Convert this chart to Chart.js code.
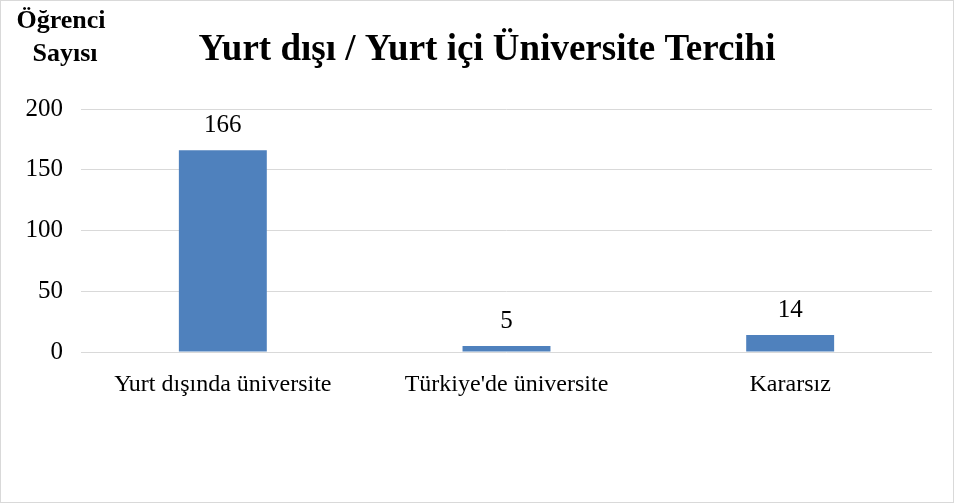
<!DOCTYPE html>
<html>
<head>
<meta charset="utf-8">
<script src="https://cdn.jsdelivr.net/npm/chart.js@4/dist/chart.umd.min.js"></script>
<style>
  html, body { margin: 0; padding: 0; background: #fff; }
  #wrap { width: 955px; height: 504px; }
</style>
</head>
<body>
<div id="wrap"><canvas id="chart"></canvas></div>
<script>
const categories = ['Yurt dışında üniversite', "Türkiye'de üniversite", 'Kararsız']
const counts = [166, 5, 14]
const yTicks = [0, 50, 100, 150, 200]
const titleText = 'Yurt dışı / Yurt içi Üniversite Tercihi'
const axisTitle = ['Öğrenci', 'Sayısı']

const serif = '"Liberation Serif", "Times New Roman", serif'

// frame, title, y axis caption, value labels
const decorations = {
  id: 'decorations',
  beforeDraw(chart) {
    const ctx = chart.ctx
    ctx.save()
    ctx.fillStyle = '#fff'
    ctx.fillRect(0, 0, chart.width, chart.height)
    ctx.strokeStyle = '#d9d9d9'
    ctx.lineWidth = 1
    ctx.strokeRect(0.5, 0.5, chart.width - 2, chart.height - 2)
    ctx.restore()
  },
  afterDatasetsDraw(chart) {
    const ctx = chart.ctx
    ctx.save()
    ctx.fillStyle = '#000'
    ctx.textAlign = 'center'
    ctx.textBaseline = 'middle'
    ctx.font = 'bold 37px ' + serif
    ctx.fillText(titleText, 487, 50)
    ctx.font = 'bold 26px ' + serif
    ctx.fillText(axisTitle[0], 61, 21)
    ctx.fillText(axisTitle[1], 65, 54)
    ctx.font = '25px ' + serif
    ctx.textBaseline = 'alphabetic'
    chart.getDatasetMeta(0).data.forEach((bar, i) => {
      ctx.fillText(String(counts[i]), bar.x, bar.y - 18)
    })
    ctx.restore()
  }
}

new Chart(document.getElementById('chart'), {
  type: 'bar',
  data: {
    labels: categories,
    datasets: [{
      data: counts,
      backgroundColor: '#4f81bd',
      barPercentage: 0.62,
      categoryPercentage: 0.5
    }]
  },
  plugins: [decorations],
  options: {
    responsive: true,
    maintainAspectRatio: false,
    animation: false,
    layout: { padding: { left: 20, right: 23, top: 109, bottom: 92 } },
    plugins: {
      legend: { display: false },
      title: { display: false },
      tooltip: { enabled: false }
    },
    scales: {
      x: {
        grid: { display: false },
        border: { display: false },
        ticks: { color: '#000', font: { family: serif, size: 24 }, padding: 10, maxRotation: 0 },
        afterFit: s => { s.height = 60 }
      },
      y: {
        min: 0,
        max: 200,
        afterBuildTicks: s => { s.ticks = yTicks.map(v => ({ value: v })) },
        grid: { color: '#d9d9d9', lineWidth: 1, drawTicks: false },
        border: { display: false },
        ticks: { color: '#000', font: { family: serif, size: 25 }, padding: 18 },
        afterFit: s => { s.width = 61 }
      }
    }
  }
})
</script>
</body>
</html>
